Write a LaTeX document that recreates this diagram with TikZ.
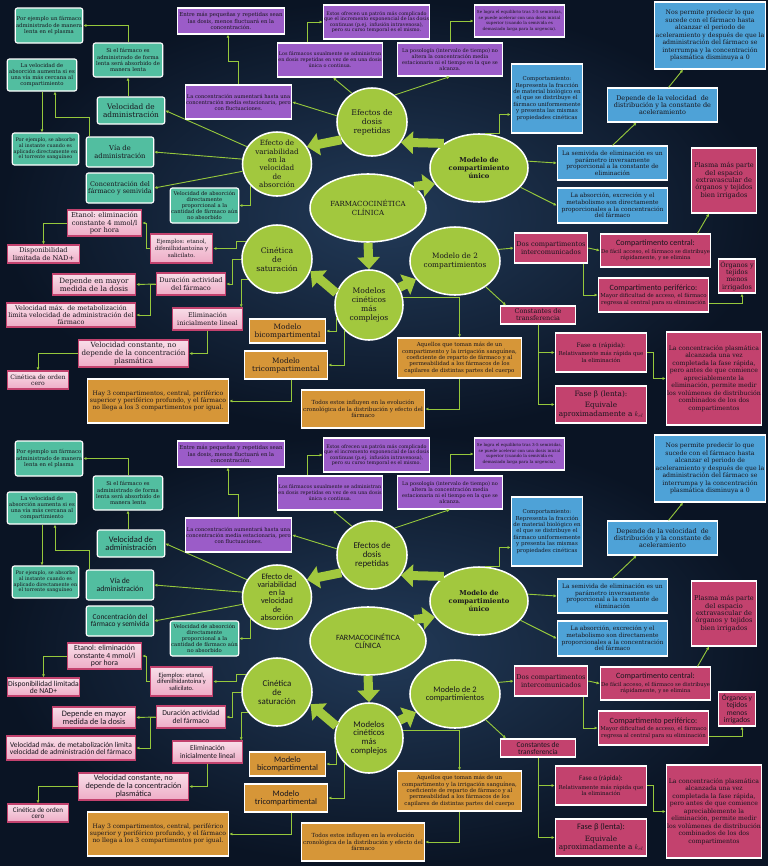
\documentclass[tikz,border=0pt]{standalone}
\usepackage{fontspec}
\setmainfont{DejaVu Serif}
\setsansfont{Carlito}[Scale=1.15]
\usetikzlibrary{positioning,shapes.geometric,arrows.meta}
\definecolor{bgin}{RGB}{34,58,88}
\definecolor{bgout}{RGB}{10,20,36}
\definecolor{maplime}{RGB}{162,200,62}
\definecolor{maplink}{RGB}{150,200,60}
\definecolor{mapteal}{RGB}{82,190,160}
\definecolor{mappurple}{RGB}{155,92,200}
\definecolor{mapblue}{RGB}{78,162,215}
\definecolor{mapraspb}{RGB}{195,66,110}
\definecolor{mappink}{RGB}{238,172,198}
\definecolor{maporange}{RGB}{214,150,56}
\definecolor{inkdark}{RGB}{25,22,30}
\hyphenpenalty=10000
\exhyphenpenalty=10000

\begin{document}
\begin{tikzpicture}[x=0.05cm, y=-0.05cm,
        bubble/.style={ellipse, draw=white, line width=2.2pt, fill=maplime,
                    inner sep=-10pt, align=center, text=inkdark,
                    font=\tf\fontsize{11}{12.8}\selectfont},
        tbox/.style={draw=white, line width=1.6pt, rounded corners=3pt,
                    fill=mapteal, inner sep=1pt, align=flush center, text=inkdark,
                    font=\fontsize{7.6}{8.8}\selectfont},
        pbox/.style={draw=white, line width=1.6pt, fill=mappurple,
                    inner sep=1pt, align=flush center, text=inkdark,
                    font=\fontsize{7.4}{8.6}\selectfont},
        bbox/.style={draw=white, line width=1.6pt, fill=mapblue,
                    inner sep=1pt, align=flush center, text=inkdark,
                    font=\fontsize{8.5}{9.5}\selectfont},
        rbox/.style={draw=white, line width=1.6pt, fill=mapraspb,
                    inner sep=1pt, align=flush center, text=inkdark,
                    font=\fontsize{9.4}{10.4}\selectfont},
        lbox/.style={draw=mapraspb, line width=1.6pt,
                    top color=mappink!40!white, bottom color=mappink,
                    inner sep=1pt, align=flush center, text=inkdark,
                    font=\tf\fontsize{9.6}{10.6}\selectfont},
        obox/.style={draw=white, line width=1.6pt, fill=maporange,
                    inner sep=1pt, align=flush center, text=inkdark,
                    font=\fontsize{8}{9.2}\selectfont},
        ttl/.style={font=\tf\fontsize{10.5}{11.5}\selectfont},
        link/.style={draw=maplink, line width=1.3pt,
                    -{Latex[length=4.5pt,width=4.5pt]}},
        bigarrow/.style={draw=maplime, line width=0.45cm,
                    -{Triangle[length=0.6cm,width=1.1cm]}}
    ]
    \useasboundingbox (0,0) rectangle (768,866);

    % the slide appears twice, the second time with sans titles
    \foreach \dy/\pfx/\tf in {0/a-/\rmfamily, 433/b-/\sffamily} {
    \begin{scope}[shift={(0,\dy)}, name prefix=\pfx]
    \shade[inner color=bgin, outer color=bgout] (0,0) rectangle (768,433);

    % Central bubbles
    \node[bubble, minimum width=5.8cm, minimum height=3.4cm,
          font=\tf\fontsize{10}{12}\selectfont] (fc) at (368,208) {FARMACOCINÉTICA\\CLÍNICA};
    \node[bubble, minimum width=4.9cm, minimum height=3.4cm,
          font=\rmfamily\bfseries\fontsize{9.6}{11.8}\selectfont] (unico) at (479,168) {Modelo de\\compartimiento\\único};
    \node[bubble, minimum width=3.5cm, minimum height=3.4cm] (repetidas) at (372,122) {Efectos de\\dosis\\repetidas};
    \node[bubble, minimum width=3.45cm, minimum height=3.2cm,
          font=\tf\fontsize{10.2}{11.8}\selectfont] (variab) at (277,164) {Efecto de\\variabilidad\\en la\\velocidad\\de\\absorción};
    \node[bubble, minimum width=3.5cm, minimum height=3.4cm] (satur) at (277,259) {Cinética\\de\\saturación};
    \node[bubble, minimum width=3.4cm, minimum height=3.5cm,
          font=\tf\fontsize{10.8}{12.4}\selectfont] (complejos) at (369,305) {Modelos\\cinéticos\\más\\complejos};
    \node[bubble, minimum width=4.5cm, minimum height=3.4cm,
          font=\tf\fontsize{10.4}{12}\selectfont] (dosmod) at (455,261) {Modelo de 2\\compartimientos};

    \draw[bigarrow] (fc.25) -- (unico.200);
    \draw[bigarrow] (unico.145) -- (repetidas.-35);
    \draw[bigarrow] (repetidas.210) -- (variab.30);
    \draw[bigarrow] (fc.south) -- (complejos.north);
    \draw[bigarrow] (complejos.160) -- (satur.-20);
    \draw[bigarrow] (complejos.30) -- (dosmod.205);

    % Absorption (teal)
    \node[tbox, text width=3.3cm, minimum height=1.75cm] (lentoej) at (49,25.5) {Por ejemplo un fármaco administrado de manera lenta en el plasma};
    \node[tbox, text width=3.4cm, minimum height=1.7cm] (lento) at (128,60) {Si el fármaco es administrado de forma lenta será absorbido de manera lenta};
    \node[tbox, text width=3.4cm, minimum height=1.6cm] (velabs) at (42,75) {La velocidad de absorción aumenta si es una vía más cercana al compartimiento};
    \node[tbox, ttl, text width=3.3cm, minimum height=1.35cm] (veladm) at (131,110.5) {Velocidad de administración};
    \node[tbox, ttl, text width=3.3cm, minimum height=1.5cm,
          font=\tf\fontsize{9.6}{11}\selectfont] (via) at (120,152) {Vía de\\administración};
    \node[tbox, text width=3.25cm, minimum height=1.6cm,
          font=\fontsize{7}{8.2}\selectfont] (instej) at (45.5,149) {Por ejemplo, se absorbe al instante cuando es aplicado directamente en el torrente sanguíneo};
    \node[tbox, ttl, text width=3.3cm, minimum height=1.5cm,
          font=\tf\fontsize{9.2}{10.6}\selectfont] (conc) at (120,188) {Concentración del fármaco y semivida};
    \node[tbox, text width=3.35cm, minimum height=1.75cm,
          font=\fontsize{7.5}{8.4}\selectfont] (veldir) at (204.5,205.5) {Velocidad de absorción directamente proporcional a la cantidad de fármaco aún no absorbido};

    \draw[link] (variab.150) -- (veladm.east);
    \draw[link] (variab.172) -- (via.east);
    \draw[link] (variab.192) -- (conc.east);
    \draw[link] (variab.220) |- (veldir.east);
    \draw[link] (veladm.north -| lento.south) -- (lento.south);
    \draw[link] (lento.north) |- (lentoej.east);
    \draw[link] ([xshift=0.2cm]via.north west) -- ++(0,-19) -| ([xshift=0.65cm]velabs.south);
    \draw[link] (velabs.south) -- (velabs.south |- instej.north);

    % Repeated doses (purple)
    \node[pbox, text width=5.25cm, minimum height=1.3cm,
          font=\fontsize{7.7}{8.8}\selectfont] (entre) at (231,21) {Entre más pequeñas y repetidas sean las dosis, menos fluctuará en la concentración.};
    \node[pbox, text width=5.25cm, minimum height=1.7cm,
          font=\fontsize{6.9}{7.9}\selectfont] (patron) at (376.5,22) {Estos ofrecen un patrón más complicado que el incremento exponencial de las dosis continuas (p.ej. infusión intravenosa), pero su curso temporal es el mismo.};
    \node[pbox, text width=5.2cm, minimum height=1.7cm,
          font=\fontsize{7}{8.6}\selectfont] (usual) at (330,60) {Los fármacos usualmente se administran en dosis repetidas en vez de en una dosis única o continua.};
    \node[pbox, text width=4.45cm, minimum height=1.6cm,
          font=\fontsize{5.9}{7.8}\selectfont] (equil) at (519.5,21) {Se logra el equilibrio tras 3-5 semividas, se puede acelerar con una dosis inicial superior (cuando la semivida es demasiado larga para la urgencia).};
    \node[pbox, text width=5.2cm, minimum height=1.65cm,
          font=\fontsize{7.2}{8.4}\selectfont] (poso) at (450,59.5) {La posología (intervalo de tiempo) no altera la concentración media estacionaria ni el tiempo en la que se alcanza.};
    \node[pbox, text width=5.25cm, minimum height=1.7cm] (fluct) at (238.5,102) {La concentración aumentará hasta una concentración media estacionaria, pero con fluctuaciones.};

    \draw[link] (repetidas.170) -- (fluct.east);
    \draw[link] (repetidas.125) -- ([xshift=0.15cm]usual.south);
    \draw[link] (repetidas.50) -- (poso.south);
    \draw[link] ([xshift=-1.15cm]usual.north) |- (patron.west);
    \draw[link] (fluct.north) -- ++(0,-23) -| ([xshift=-0.15cm]entre.south);
    \draw[link] (poso.north) |- (equil.west);

    % One compartment (blue)
    \node[bbox, text width=5.5cm, minimum height=3.35cm,
          font=\fontsize{8.8}{10.6}\selectfont] (predice) at (710,35.5) {Nos permite predecir lo que sucede con el fármaco hasta alcanzar el periodo de aceleramiento y después de que la administración del fármaco se interrumpa y la concentración plasmática disminuya a 0};
    \node[bbox, text width=5.45cm, minimum height=1.7cm,
          font=\fontsize{9.2}{10.5}\selectfont] (acel) at (662.5,105) {Depende de la velocidad\ \ de distribución y la constante de aceleramiento};
    \node[bbox, text width=3.5cm, minimum height=3.45cm,
          font=\fontsize{7.8}{9.2}\selectfont] (comport) at (547,98.5) {Comportamiento:\\Representa la fracción de material biológico en el que se distribuye el fármaco uniformemente y presenta las mismas propiedades cinéticas};
    \node[bbox, text width=5.45cm, minimum height=1.7cm] (semivida) at (612.5,163) {La semivida de eliminación es un parámetro inversamente proporcional a la constante de eliminación};
    \node[bbox, text width=5.45cm, minimum height=1.75cm,
          font=\fontsize{8.4}{9.4}\selectfont] (absexc) at (612.5,205.5) {La absorción, excreción y el metabolismo son directamente proporcionales a la concentración del fármaco};

    \draw[link] (unico.80) -- ++(14,0) |- ([yshift=-0.8cm]comport.west);
    \draw[link] (unico.8) -- (semivida.west);
    \draw[link] (unico.-25) -- (absexc.west);
    \draw[link] (semivida.north) -- ([xshift=-1.3cm]acel.south);
    \draw[link] ([xshift=0.3cm]acel.north) -- ([xshift=-1.35cm]predice.south);

    % Two compartments (raspberry)
    \node[rbox, text width=3.2cm, minimum height=3.25cm] (plasma) at (724,180.5) {Plasma más parte del espacio extravascular de órganos y tejidos bien irrigados};
    \node[rbox, text width=3.6cm, minimum height=1.5cm,
          font=\fontsize{9.4}{10.6}\selectfont] (doscomp) at (551,248) {Dos compartimentos intercomunicados};
    \node[rbox, text width=5.45cm, minimum height=1.65cm,
          font=\fontsize{7.6}{9}\selectfont] (central) at (655.5,250.5) {{\sffamily\fontsize{10}{11.5}\selectfont Compartimento central:}\\[2pt]De fácil acceso, el fármaco se distribuye rápidamente, y se elimina};
    \node[rbox, text width=5.45cm, minimum height=1.7cm,
          font=\fontsize{7.7}{9}\selectfont] (perif) at (653.5,295) {{\sffamily\fontsize{10}{11.5}\selectfont Compartimento periférico:}\\[2pt]Mayor dificultad de acceso, el fármaco regresa al central para su eliminación};
    \node[rbox, text width=1.8cm, minimum height=1.7cm,
          font=\tf\fontsize{9.2}{10.2}\selectfont] (organos) at (737,276) {Órganos y tejidos menos irrigados};
    \node[rbox, text width=3.7cm, minimum height=0.9cm,
          font=\tf\fontsize{9.2}{10}\selectfont] (transf) at (538,315) {Constantes de transferencia};
    \node[rbox, text width=4.5cm, minimum height=1.95cm,
          font=\fontsize{7.8}{9.2}\selectfont] (fasea) at (601,352.5) {{\tf\fontsize{8.6}{10}\selectfont Fase α (rápida):}\\[3pt]Relativamente más rápida que la eliminación};
    \node[rbox, text width=4.5cm, minimum height=1.85cm,
          font=\fontsize{10.4}{12}\selectfont] (faseb) at (601,404.5) {{\tf Fase β (lenta):}\\[4pt]Equivale aproximadamente a $k_{el}$};
    \node[rbox, text width=4.7cm, minimum height=4.65cm,
          font=\fontsize{8.8}{10.6}\selectfont] (vdist) at (714,378.5) {La concentración plasmática alcanzada una vez completada la fase rápida, pero antes de que comience apreciablemente la eliminación, permite medir los volúmenes de distribución combinados de los dos compartimentos};

    \draw[link] (dosmod.15) -- (doscomp.west);
    \draw[link] (dosmod.-40) -- ([xshift=-1.6cm]transf.north);
    \draw[link] (doscomp.east) -- (central.west);
    \draw[link] ([xshift=1.6cm]doscomp.south) |- (perif.west);
    \draw[link] ([xshift=2.1cm]central.north) -- ([xshift=-0.75cm]plasma.south);
    \draw[link] ([yshift=-0.4cm]perif.east) -| ([xshift=0.25cm]organos.south);
    \draw[link] (transf.south) |- (fasea.west);
    \draw[link] (transf.south) |- (faseb.west);
    \draw[link] (fasea.east) -- ++(6,0) |- (vdist.west);

    % Saturation kinetics (light pink)
    \node[lbox, text width=3.65cm, minimum height=1.3cm] (etanol) at (104.5,223) {Etanol: eliminación constante 4 mmol/l por hora};
    \node[lbox, text width=3.55cm, minimum height=0.9cm,
          font=\tf\fontsize{9.4}{10.2}\selectfont] (nad) at (43.5,254) {Disponibilidad limitada de NAD+};
    \node[lbox, text width=3.05cm, minimum height=1.45cm,
          font=\tf\fontsize{8}{9.4}\selectfont] (ejemplos) at (181.5,248.5) {Ejemplos: etanol, difenilhidantoína y salicilato.};
    \node[lbox, text width=3.4cm, minimum height=1.1cm,
          font=\tf\fontsize{9.4}{10.6}\selectfont] (duracion) at (191,284) {Duración actividad del fármaco};
    \node[lbox, text width=4.1cm, minimum height=1.05cm,
          font=\tf\fontsize{10.3}{11}\selectfont] (dosis) at (94,284.5) {Depende en mayor medida de la dosis};
    \node[lbox, text width=6.4cm, minimum height=1.2cm,
          font=\tf\fontsize{9.2}{10}\selectfont] (velmax) at (71,315) {Velocidad máx. de metabolización limita velocidad de administración del fármaco};
    \node[lbox, text width=3.45cm, minimum height=1.1cm,
          font=\tf\fontsize{9.2}{10.6}\selectfont] (elim) at (207.5,319) {Eliminación inicialmente lineal};
    \node[lbox, text width=5.45cm, minimum height=1.35cm,
          font=\tf\fontsize{10.1}{11.2}\selectfont] (velcte) at (133.5,353.5) {Velocidad constante, no depende de la concentración plasmática};
    \node[lbox, text width=3.0cm, minimum height=0.9cm,
          font=\tf\fontsize{8.7}{9.6}\selectfont] (orden) at (38,380) {Cinética de orden cero};

    \draw[link] (satur.150) -- ++(-10,0) |- (ejemplos.east);
    \draw[link] (satur.west) -- ++(-9,0) |- (duracion.east);
    \draw[link] (satur.215) -| ([xshift=-0.1cm]elim.north east);
    \draw[link] (ejemplos.west) -- ++(-3,0) |- (etanol.east);
    \draw[link] (etanol.west) -| (nad.north);
    \draw[link] (duracion.west) -- (dosis.east);
    \draw[link] (duracion.west) -- ++(-5,0) |- (velmax.east);
    \draw[link] (elim.south) |- (velcte.east);
    \draw[link] (velcte.west) -| (orden.north);

    % Complex models (orange)
    \node[obox, text width=3.75cm, minimum height=1.2cm,
          font=\tf\fontsize{10.4}{11.4}\selectfont] (bicomp) at (287.5,331) {Modelo bicompartimental};
    \node[obox, text width=4.1cm, minimum height=1.4cm,
          font=\tf\fontsize{10.4}{11.4}\selectfont] (tricomp) at (286,365) {Modelo tricompartimental};
    \node[obox, text width=7.0cm, minimum height=2.2cm,
          font=\fontsize{8.7}{10.2}\selectfont] (tres) at (158,401) {Hay 3 compartimentos, central, periférico superior y periférico profundo, y el fármaco no llega a los 3 compartimentos por igual.};
    \node[obox, text width=6.15cm, minimum height=2.0cm,
          font=\fontsize{7.8}{9}\selectfont] (aquellos) at (459.5,358) {Aquellos que toman más de un compartimento y la irrigación sanguínea, coeficiente de reparto de fármaco y al permeabilidad a los fármacos de los capilares de distintas partes del cuerpo};
    \node[obox, text width=6.1cm, minimum height=1.9cm] (todos) at (363,409) {Todos estos influyen en la evolución cronológica de la distribución y efecto del fármaco};

    \draw[link] (complejos.200) |- (bicomp.east);
    \draw[link] (complejos.225) |- (tricomp.east);
    \draw[link] (complejos.12) -| (aquellos.north);
    \draw[link] (aquellos.south) |- (todos.east);
    \draw[link] ([xshift=0.25cm]tricomp.south) |- (tres.east);
    \end{scope}
    }
\end{tikzpicture}
\end{document}
